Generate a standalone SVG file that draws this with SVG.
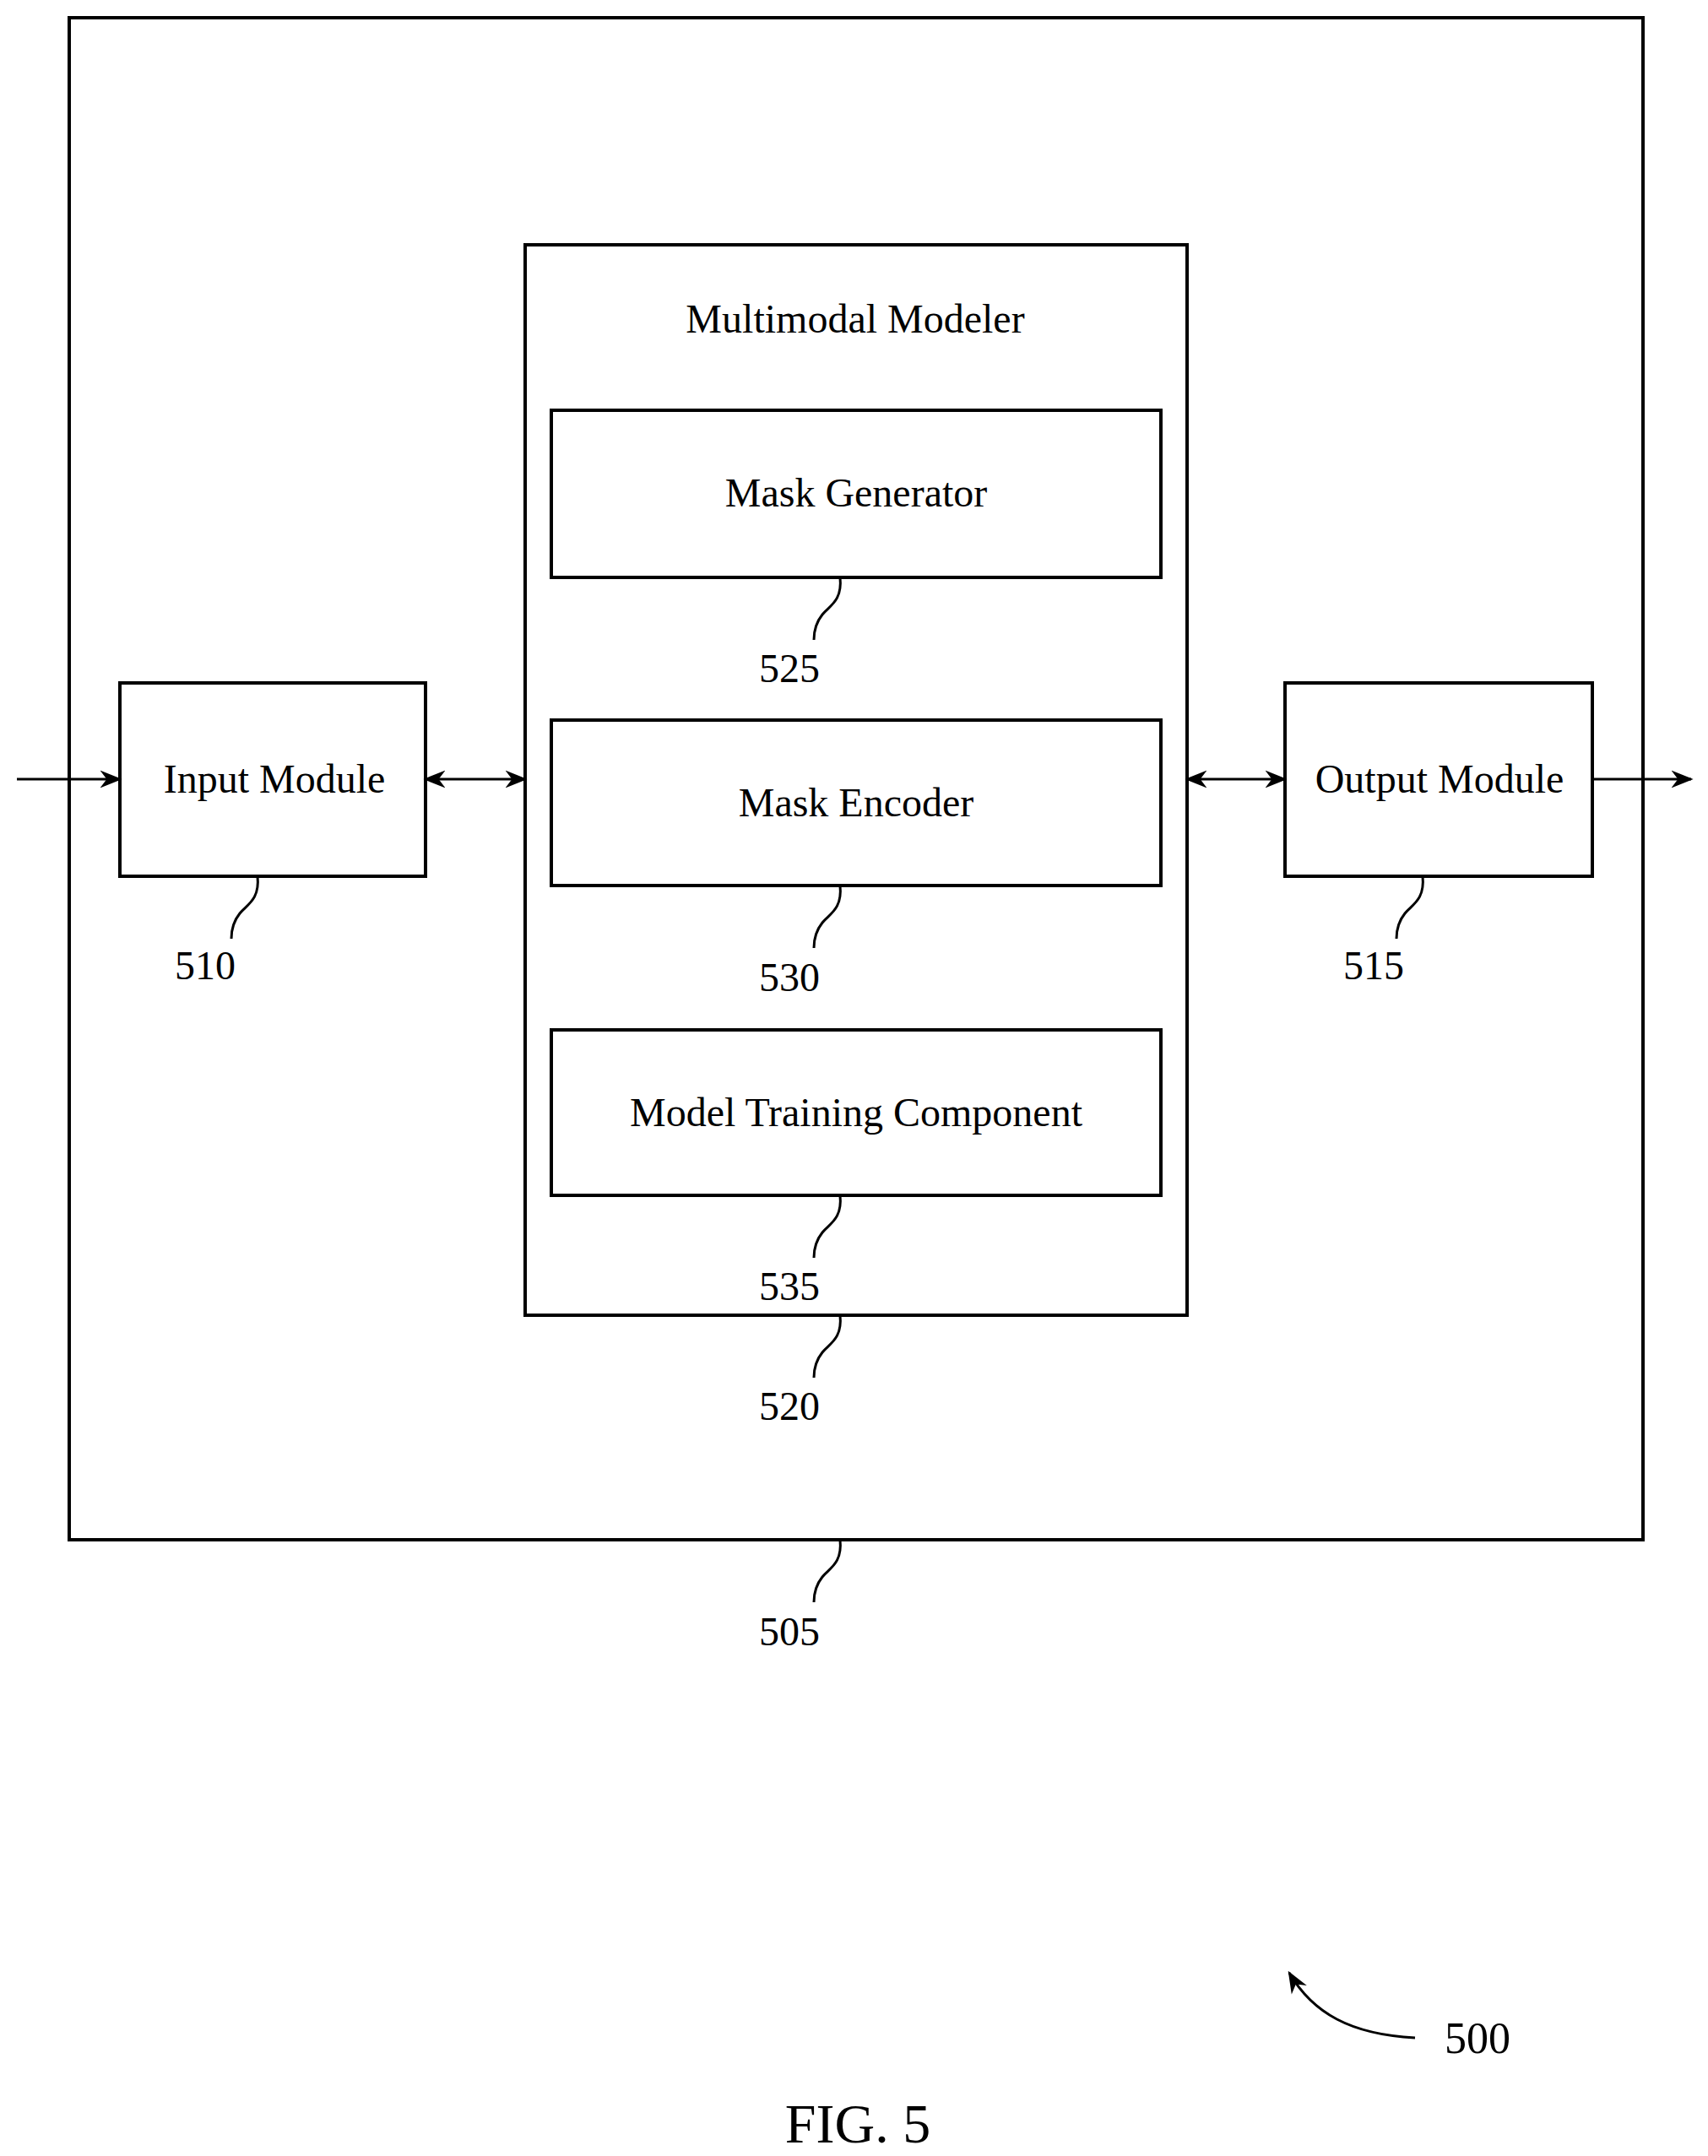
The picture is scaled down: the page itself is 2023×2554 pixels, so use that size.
<svg xmlns="http://www.w3.org/2000/svg" width="2023" height="2554" viewBox="0 0 2023 2554">
<defs>
<marker id="ah" viewBox="0 0 20 20" refX="18" refY="10" markerWidth="26" markerHeight="26" markerUnits="userSpaceOnUse" orient="auto-start-reverse">
<path d="M0,2 L20,10 L0,18 L6,10 Z" fill="#000"/>
</marker>
<style>
rect{fill:#fff;stroke:#000;stroke-width:4}
text{font-family:"Liberation Serif",serif;font-size:48px;fill:#000;text-anchor:middle}
.ln{fill:none;stroke:#000;stroke-width:3}
</style>
</defs>
<rect x="0" y="0" width="2023" height="2554" style="stroke:none"/>
<g id="n505"><rect x="82" y="21" width="1864" height="1803"/></g>
<g id="n520"><rect x="622" y="290" width="784" height="1268"/><text x="1013" y="394">Multimodal Modeler</text></g>
<g id="n525"><rect x="653" y="486" width="722" height="198"/><text x="1014" y="600">Mask Generator</text></g>
<g id="n530"><rect x="653" y="853" width="722" height="196"/><text x="1014" y="967">Mask Encoder</text></g>
<g id="n535"><rect x="653" y="1220" width="722" height="196"/><text x="1014" y="1334">Model Training Component</text></g>
<g id="n510"><rect x="142" y="809" width="362" height="229"/><text x="325" y="939">Input Module</text></g>
<g id="n515"><rect x="1522" y="809" width="364" height="229"/><text x="1705" y="939">Output Module</text></g>
<g id="connectors">
<line class="ln" x1="20" y1="923" x2="142" y2="923" marker-end="url(#ah)"/>
<line class="ln" x1="504" y1="923" x2="622" y2="923" marker-start="url(#ah)" marker-end="url(#ah)"/>
<line class="ln" x1="1406" y1="923" x2="1522" y2="923" marker-start="url(#ah)" marker-end="url(#ah)"/>
<line class="ln" x1="1886" y1="923" x2="2003" y2="923" marker-end="url(#ah)"/>
<path class="ln" d="M995,684 C998,712 982,718 974,728 C966,738 964,748 964,758"/>
<path class="ln" d="M995,1049 C998,1077 982,1083 974,1093 C966,1103 964,1113 964,1123"/>
<path class="ln" d="M995,1416 C998,1444 982,1450 974,1460 C966,1470 964,1480 964,1490"/>
<path class="ln" d="M995,1558 C998,1586 982,1592 974,1602 C966,1612 964,1622 964,1632"/>
<path class="ln" d="M995,1824 C998,1852 982,1858 974,1868 C966,1878 964,1888 964,1898"/>
<path class="ln" d="M305,1038 C308,1066 292,1072 284,1082 C276,1092 274,1102 274,1112"/>
<path class="ln" d="M1685,1038 C1688,1066 1672,1072 1664,1082 C1656,1092 1654,1102 1654,1112"/>
<path class="ln" d="M1676,2414 C1600,2410 1555,2385 1527,2337" marker-end="url(#ah)"/>
</g>
<g id="labels">
<text x="935" y="808">525</text>
<text x="935" y="1174">530</text>
<text x="935" y="1540">535</text>
<text x="935" y="1682">520</text>
<text x="935" y="1949">505</text>
<text x="243" y="1160">510</text>
<text x="1627" y="1160">515</text>
<text x="1750" y="2432" style="font-size:52px">500</text>
<text x="1016" y="2538" style="font-size:66px">FIG. 5</text>
</g>
</svg>
